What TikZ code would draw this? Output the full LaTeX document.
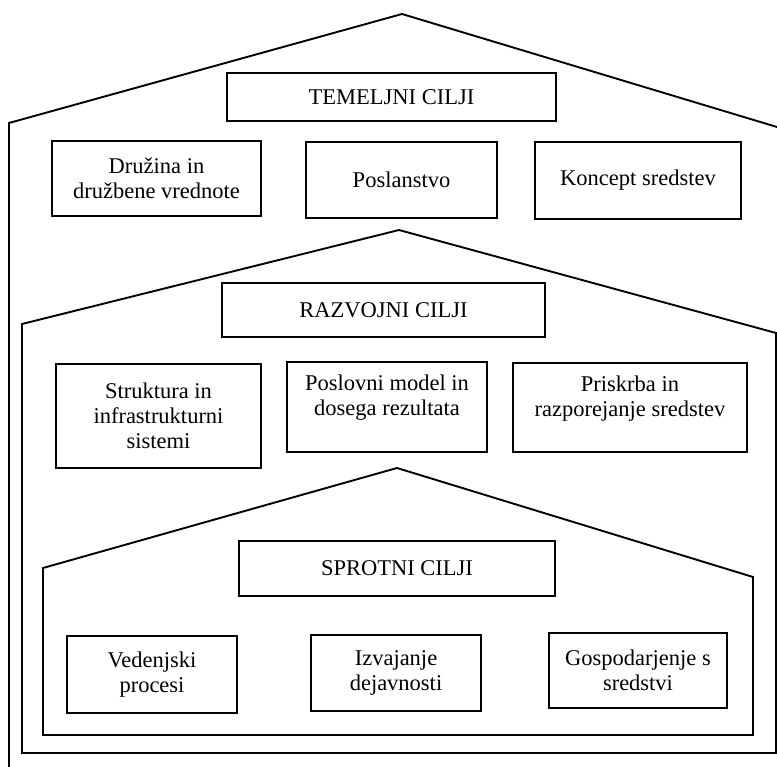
\documentclass[tikz,border=0pt]{standalone}
\usepackage{fontspec}
\setmainfont{Liberation Serif}
\usepackage{tikz}
\usetikzlibrary{positioning}
\tikzstyle{every node}=[font=\fontsize{22.5}{25}\selectfont]
\tikzstyle{every path}=[line width=1.9pt,line join=miter]
\tikzstyle{cilj}=[draw,align=center,inner sep=0pt]

\begin{document}
\begin{tikzpicture}[x=1pt,y=-1pt]
  \useasboundingbox (0,0) rectangle (777,767);
  % hise
  \draw (9,767)--(9,123)--(402,14)--(777,127);
  \draw (22,324)--(399,230)--(776,333)--(776,753)--(22,753)--cycle;
  \draw (43,568)--(397,468)--(753,577)--(753,735)--(43,735)--cycle;
  % temeljni cilji
  \node[cilj,minimum width=329pt,minimum height=48pt] (tem) at (391.5,97) {TEMELJNI CILJI};
  \node[cilj,minimum width=209pt,minimum height=75pt] (druz) at (156.5,178.5) {Družina in\\družbene vrednote};
  \node[cilj,minimum width=191pt,minimum height=76pt] (posl) at (401.5,180) {Poslanstvo};
  \node[cilj,minimum width=206pt,minimum height=77pt] (konc) at (638,180.5) {Koncept sredstev};
  % razvojni cilji
  \node[cilj,minimum width=323pt,minimum height=54pt] (razv) at (383.5,310) {RAZVOJNI CILJI};
  \node[cilj,minimum width=205pt,minimum height=104pt] (strk) at (158.5,416) {Struktura in\\infrastrukturni\\sistemi};
  \node[cilj,minimum width=200pt,minimum height=90pt,text depth=23pt] (posm) at (387,407) {Poslovni model in\\dosega rezultata};
  \node[cilj,minimum width=234pt,minimum height=89pt,text depth=22pt] (prisk) at (630,407.5) {Priskrba in\\razporejanje sredstev};
  % sprotni cilji
  \node[cilj,minimum width=316pt,minimum height=55pt] (sprot) at (397,568.5) {SPROTNI CILJI};
  \node[cilj,minimum width=170pt,minimum height=77pt] (ved) at (152,674.5) {Vedenjski\\procesi};
  \node[cilj,minimum width=170pt,minimum height=76pt] (izv) at (396,673) {Izvajanje\\dejavnosti};
  \node[cilj,minimum width=178pt,minimum height=75pt] (gosp) at (638,670.5) {Gospodarjenje s\\sredstvi};
\end{tikzpicture}
\end{document}
